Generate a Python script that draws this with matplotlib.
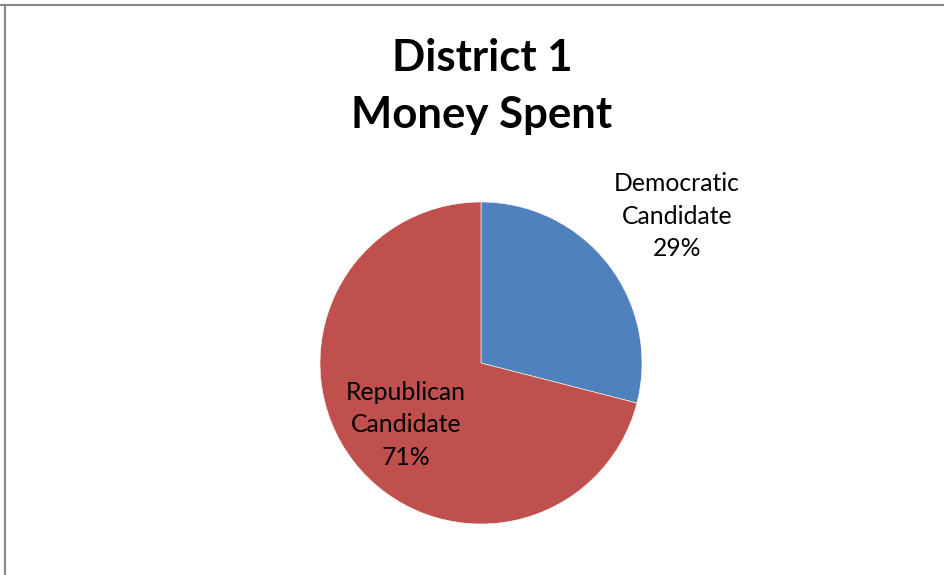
import matplotlib
matplotlib.use("Agg")
import matplotlib.pyplot as plt
from matplotlib.lines import Line2D

# Campaign spending shares, district 1
categories = ["Democratic\nCandidate", "Republican\nCandidate"]
shares = [29, 71]
colors = ["#4F81BD", "#C0504D"]
title_lines = ["District 1", "Money Spent"]

W, H = 945, 575
fig = plt.figure(figsize=(W / 100, H / 100), dpi=100)
fig.patch.set_facecolor("white")

# pie centred at (481, 363) px with radius 161 px
cx, cy, r = 481, 363, 161
ax = fig.add_axes([(cx - r) / W, (H - cy - r) / H, 2 * r / W, 2 * r / H])
wedges, _ = ax.pie(shares, colors=colors, startangle=90, counterclock=False,
                   radius=1.0, wedgeprops=dict(edgecolor="white", linewidth=0.4))
ax.set_xlim(-1, 1)
ax.set_ylim(-1, 1)
ax.set_aspect("equal")
ax.axis("off")

# data labels
label_pos = [(1.217, 0.913), (-0.466, -0.385)]
for cat, val, (lx, ly) in zip(categories, shares, label_pos):
    ax.text(lx, ly, f"{cat}\n{val}%", ha="center", va="center",
            fontsize=17.8, family="Lato", linespacing=1.5, color="black",
            clip_on=False)

# title
fig.text(482 / W, 1 - 58 / H, title_lines[0], ha="center", va="center",
         fontsize=31.5, fontweight="bold", family="Lato")
fig.text(482 / W, 1 - 115 / H, title_lines[1], ha="center", va="center",
         fontsize=31.5, fontweight="bold", family="Lato")

# frame edges
fig.add_artist(Line2D([0, 1], [1 - 4.5 / H, 1 - 4.5 / H], color="#878787",
                      linewidth=1.5, transform=fig.transFigure))
fig.add_artist(Line2D([4.5 / W, 4.5 / W], [0, 1 - 4.5 / H], color="#878787",
                      linewidth=1.5, transform=fig.transFigure))

fig.savefig("out.png", dpi=100, facecolor="white")
